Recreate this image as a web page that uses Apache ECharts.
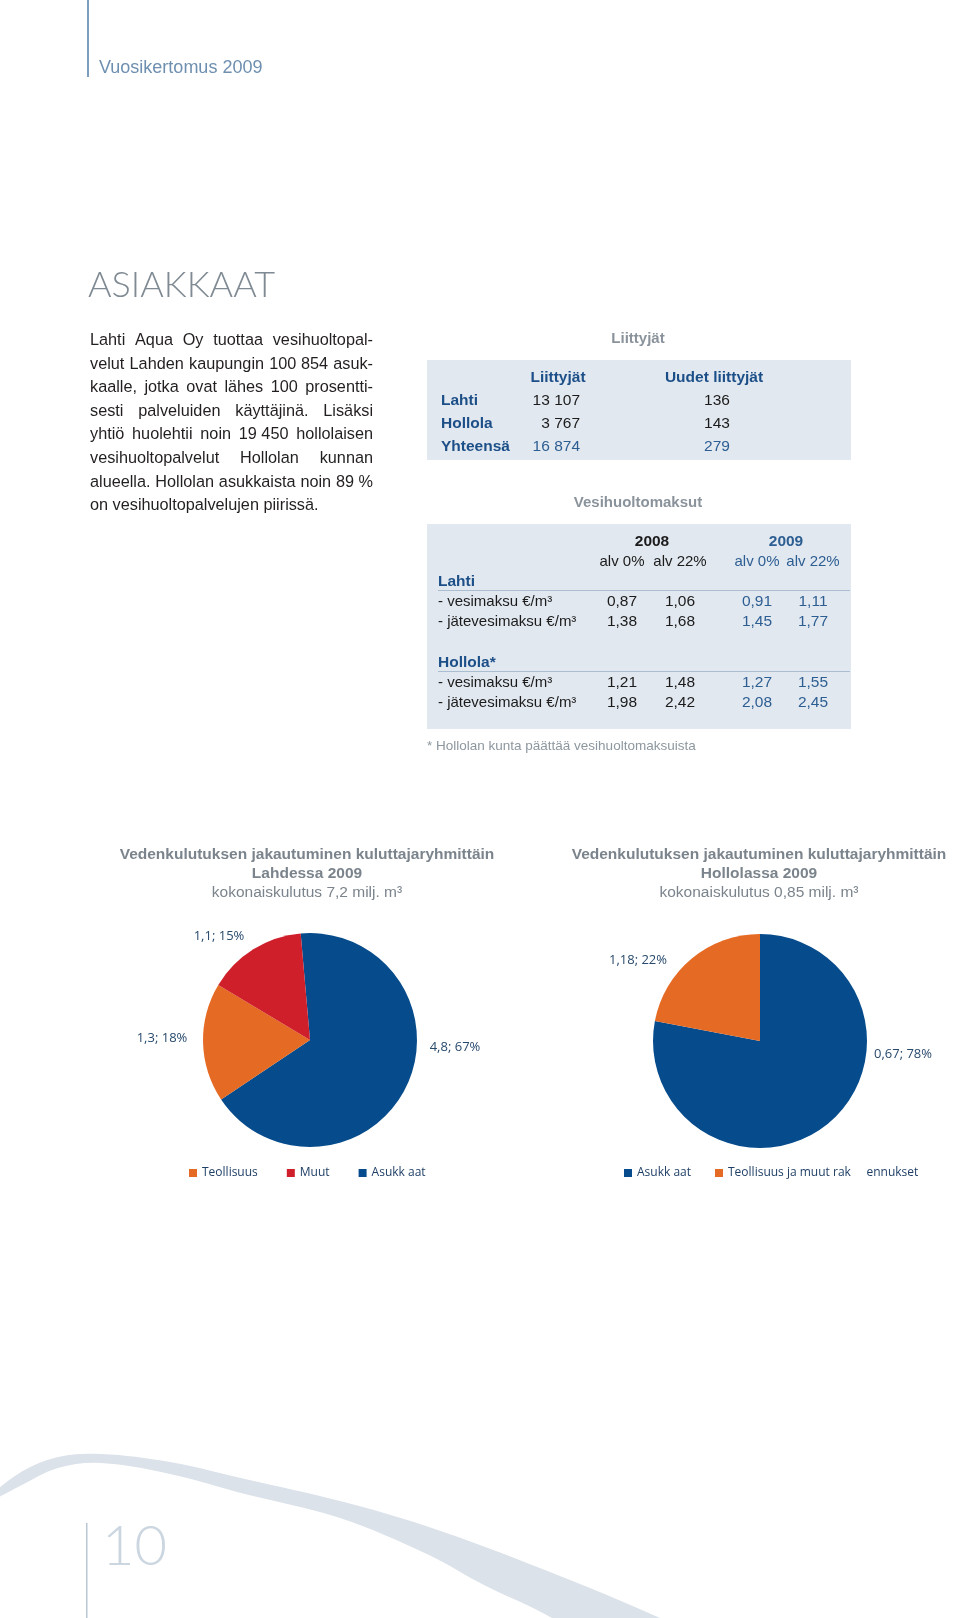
<!DOCTYPE html>
<html><head><meta charset="utf-8">
<script src="https://cdn.jsdelivr.net/npm/echarts@6/dist/echarts.min.js"></script>
<style>html,body{margin:0;padding:0;background:#fff}#c{width:960px;height:1618px}</style>
</head><body><div id="c"></div>
<script>
// ---------- DATA ----------
const headerText = 'Vuosikertomus 2009';
const sectionTitle = 'ASIAKKAAT';
const paragraphLines = [
  'Lahti Aqua Oy tuottaa vesihuoltopal-',
  'velut Lahden kaupungin 100\u00a0854 asuk-',
  'kaalle, jotka ovat lähes 100 prosentti-',
  'sesti palveluiden käyttäjinä. Lisäksi',
  'yhtiö huolehtii noin 19\u00a0450 hollolaisen',
  'vesihuoltopalvelut Hollolan kunnan',
  'alueella. Hollolan asukkaista noin 89\u00a0%',
  'on vesihuoltopalvelujen piirissä.'
];
const liittyjatTitle = 'Liittyjät';
const liittyjatCols = ['Liittyjät', 'Uudet liittyjät'];
const liittyjatRows = ['Lahti', 'Hollola', 'Yhteensä'];
const liittyjat = ['13 107', '3 767', '16 874'];
const uudetLiittyjat = ['136', '143', '279'];

const maksutTitle = 'Vesihuoltomaksut';
const maksuYears = ['2008', '2009'];
const alvLabels = ['alv 0%', 'alv 22%', 'alv 0%', 'alv 22%'];
const maksuGroups = ['Lahti', 'Hollola*'];
const maksuRows = ['- vesimaksu €/m³', '- jätevesimaksu €/m³'];
const lahtiVesi = [0.87, 1.06, 0.91, 1.11];
const lahtiJate = [1.38, 1.68, 1.45, 1.77];
const hollolaVesi = [1.21, 1.48, 1.27, 1.55];
const hollolaJate = [1.98, 2.42, 2.08, 2.45];
const footnote = '* Hollolan kunta päättää vesihuoltomaksuista';

const lahtiTitle = 'Vedenkulutuksen jakautuminen kuluttajaryhmittäin\nLahdessa 2009';
const lahtiSub = 'kokonaiskulutus 7,2 milj. m³';
const lahtiNames = ['Asukk aat', 'Teollisuus', 'Muut'];
const lahtiShares = [67, 18, 15];
const lahtiVolumes = [4.8, 1.3, 1.1];
const lahtiLegend = ['Teollisuus', 'Muut', 'Asukk aat'];

const hollolaTitle = 'Vedenkulutuksen jakautuminen kuluttajaryhmittäin\nHollolassa 2009';
const hollolaSub = 'kokonaiskulutus 0,85 milj. m³';
const hollolaNames = ['Asukk aat', 'Teollisuus ja muut rak     ennukset'];
const hollolaShares = [78, 22];
const hollolaVolumes = [0.67, 1.18];
const hollolaLegend = ['Asukk aat', 'Teollisuus ja muut rak     ennukset'];

const pageNumber = '10';

// ---------- STYLE / LAYOUT ----------
const F = '"Liberation Sans", Arial, Helvetica, sans-serif';
const FL = '"Open Sans", sans-serif';
const BLUE = '#1c4f88', BLUE2 = '#2d5e92', BLACK = '#1b1b1b', GREY = '#8a939b';
const PIE_BLUE = '#064b8b', PIE_ORANGE = '#e56a23', PIE_RED = '#cf1f2a';
const lahtiColors = [PIE_BLUE, PIE_ORANGE, PIE_RED];
const hollolaColors = [PIE_BLUE, PIE_ORANGE];
const lahtiLabelPos = [[455, 1047], [162, 1038], [219, 936]];
const hollolaLabelPos = [[903, 1054], [638, 960]];

const fmt = v => String(v).replace('.', ',');
const fmt2 = v => v.toFixed(2).replace('.', ',');

const els = [];
function T(x, y, text, o) {
  o = o || {};
  const al = o.align || 'left';
  els.push({
    type: 'text', x: x, y: y, silent: true, z: 10,
    style: {
      text: text,
      font: (o.weight || 'normal') + ' ' + (o.size || 15) + 'px ' + (o.family || F),
      fill: o.color || BLACK,
      textAlign: al, align: al,
      textVerticalAlign: 'middle', verticalAlign: 'middle'
    }
  });
}

// swoosh
els.push({
  type: 'polygon', silent: true, z: 0,
  shape: {
    smooth: 0.35,
    points: [[-20, 1506], [18, 1474], [58, 1457], [101, 1454], [170, 1462], [245, 1479], [340, 1501],
             [429, 1527], [545, 1570], [660, 1618], [705, 1642],
             [582, 1642], [552, 1618], [482, 1584], [429, 1555], [340, 1518], [245, 1494],
             [170, 1474], [101, 1463], [58, 1468], [20, 1486]]
  },
  style: { fill: '#dbe2ea' }
});

// header
els.push({ type: 'rect', silent: true, shape: { x: 87, y: 0, width: 2, height: 77 }, style: { fill: '#7d9dbd' } });
T(99, 68, headerText, { size: 18, color: '#6e8fb0' });
T(88, 285, sectionTitle, { size: 36, weight: '300', family: 'Lato, ' + F, color: '#7f8a93' });

// justified paragraph (font size chosen so every line fits the column)
const ctx = document.createElement('canvas').getContext('2d');
const COL_X = 90, COL_W = 283;
let PF = 17;
function naturalWidth(line, size) { ctx.font = size + 'px ' + F; return ctx.measureText(line).width; }
while (PF > 14 && paragraphLines.slice(0, -1).some(l => naturalWidth(l, PF) > COL_W)) PF -= 0.25;
ctx.font = PF + 'px ' + F;
paragraphLines.forEach((line, i) => {
  const y = 340.7 + i * 23.57;
  if (i === paragraphLines.length - 1) { T(COL_X, y, line, { size: PF, color: '#231f20' }); return; }
  const words = line.split(' ');
  const widths = words.map(w => ctx.measureText(w).width);
  const total = widths.reduce((a, b) => a + b, 0);
  const gap = (COL_W - total) / (words.length - 1);
  let x = COL_X;
  words.forEach((w, j) => { T(x, y, w, { size: PF, color: '#231f20' }); x += widths[j] + gap; });
});

// table 1
T(638, 339, liittyjatTitle, { size: 15, weight: 'bold', color: GREY, align: 'center' });
els.push({ type: 'rect', silent: true, shape: { x: 427, y: 360, width: 424, height: 100 }, style: { fill: '#e2e8f0' } });
T(558, 378, liittyjatCols[0], { weight: 'bold', color: BLUE, align: 'center', size: 15.5 });
T(714, 378, liittyjatCols[1], { weight: 'bold', color: BLUE, align: 'center', size: 15.5 });
liittyjatRows.forEach((r, i) => {
  const y = 401 + i * 23;
  const c = i === 2 ? BLUE2 : BLACK;
  T(441, y, r, { weight: 'bold', color: BLUE, size: 15.5 });
  T(580, y, liittyjat[i], { color: c, align: 'right', size: 15.5 });
  T(717, y, uudetLiittyjat[i], { color: c, align: 'center', size: 15.5 });
});

// table 2
T(638, 503, maksutTitle, { size: 15, weight: 'bold', color: GREY, align: 'center' });
els.push({ type: 'rect', silent: true, shape: { x: 427, y: 524, width: 424, height: 205 }, style: { fill: '#e2e8f0' } });
const colX = [622, 680, 757, 813];
T(652, 542, maksuYears[0], { weight: 'bold', color: BLACK, align: 'center', size: 15.5 });
T(786, 542, maksuYears[1], { weight: 'bold', color: BLUE2, align: 'center', size: 15.5 });
alvLabels.forEach((a, i) => T(colX[i], 562, a, { color: i < 2 ? BLACK : BLUE2, align: 'center', size: 15 }));
const groupData = [[lahtiVesi, lahtiJate], [hollolaVesi, hollolaJate]];
maksuGroups.forEach((g, gi) => {
  const gy = 582 + gi * 81;
  T(438, gy, g, { weight: 'bold', color: BLUE, size: 15.5 });
  els.push({ type: 'line', silent: true, shape: { x1: 438, y1: gy + 8.5, x2: 850, y2: gy + 8.5 }, style: { stroke: '#aabdd1', lineWidth: 1 } });
  maksuRows.forEach((r, ri) => {
    const y = gy + 20 + ri * 20;
    T(438, y, r, { color: BLACK, size: 15 });
    groupData[gi][ri].forEach((v, ci) => T(colX[ci], y, fmt2(v), { color: ci < 2 ? BLACK : BLUE2, align: 'center', size: 15.5 }));
  });
});
T(427, 746, footnote, { size: 13.5, color: '#8d979f' });

// page number
els.push({ type: 'rect', silent: true, shape: { x: 86, y: 1523, width: 1.5, height: 95 }, style: { fill: '#b9c7d4' } });
T(102, 1547, pageNumber, { size: 56, weight: '300', family: 'Lato, ' + F, color: '#cbd6e0' });

// ---------- CHART ----------
const chart = echarts.init(document.getElementById('c'), null, { renderer: 'canvas', width: 960, height: 1618 });
const titleText = { fontFamily: F, fontWeight: 'bold', fontSize: 15.5, color: '#7b848c', lineHeight: 19 };
const subText = { fontFamily: F, fontWeight: 'normal', fontSize: 15.5, color: '#7b848c', lineHeight: 19 };
const legendBase = {
  orient: 'horizontal', icon: 'rect', itemWidth: 8, itemHeight: 8, padding: 0, selectedMode: false,
  textStyle: { fontFamily: FL, fontSize: 12, color: '#1f3f66' }
};
function pieSeries(center, names, shares, volumes, colors, startAngle, pos) {
  return {
    type: 'pie', center: center, radius: 107, startAngle: startAngle, clockwise: true,
    silent: true, animation: false, avoidLabelOverlap: false,
    emphasis: { disabled: true },
    itemStyle: { borderWidth: 0 },
    data: names.map((n, i) => ({ name: n, value: shares[i], itemStyle: { color: colors[i] } })),
    label: {
      show: true, position: 'outside',
      formatter: p => fmt(volumes[p.dataIndex]) + '; ' + p.value + '%',
      color: '#284a6d', fontFamily: FL, fontSize: 13
    },
    labelLine: { show: false },
    labelLayout: p => ({ x: pos[p.dataIndex][0], y: pos[p.dataIndex][1], align: 'center', verticalAlign: 'middle' })
  };
}
chart.setOption({
  animation: false,
  backgroundColor: '#ffffff',
  title: [
    { text: lahtiTitle, subtext: lahtiSub, left: 307, top: 845.5, textAlign: 'center', padding: 0, itemGap: 0, textStyle: titleText, subtextStyle: subText },
    { text: hollolaTitle, subtext: hollolaSub, left: 759, top: 845.5, textAlign: 'center', padding: 0, itemGap: 0, textStyle: titleText, subtextStyle: subText }
  ],
  legend: [
    Object.assign({}, legendBase, { data: lahtiLegend, left: 189, top: 1167, itemGap: 29 }),
    Object.assign({}, legendBase, { data: hollolaLegend, left: 624, top: 1167, itemGap: 24 })
  ],
  graphic: { elements: els },
  series: [
    pieSeries([310, 1040], lahtiNames, lahtiShares, lahtiVolumes, lahtiColors, 95, lahtiLabelPos),
    pieSeries([760, 1041], hollolaNames, hollolaShares, hollolaVolumes, hollolaColors, 90, hollolaLabelPos)
  ]
});
</script>
</body></html>
